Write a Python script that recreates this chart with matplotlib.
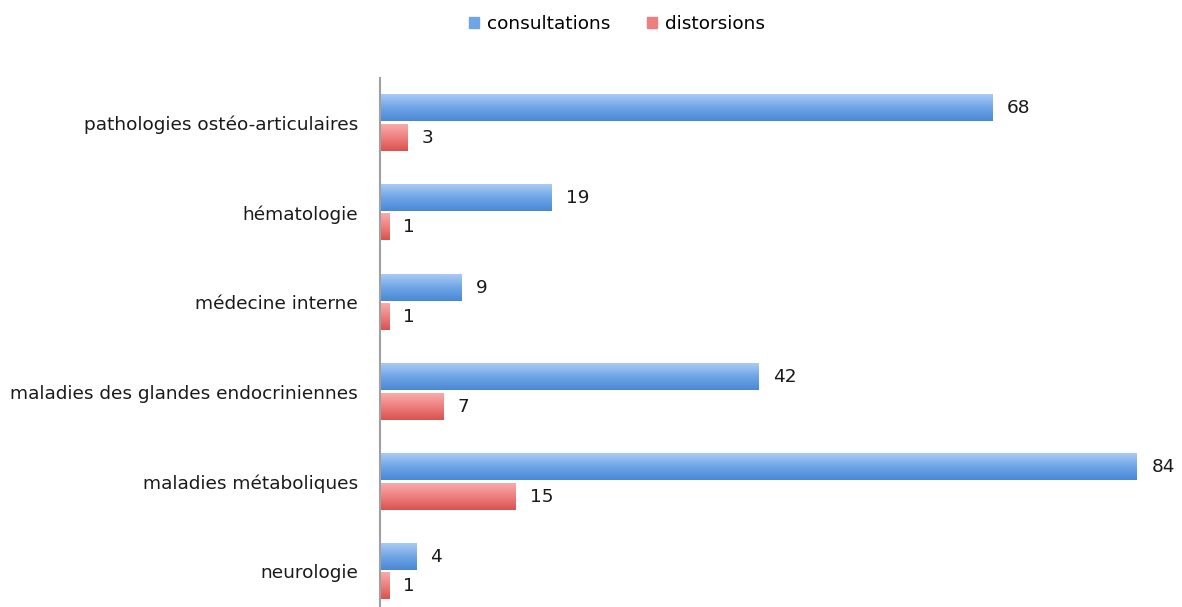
import matplotlib.pyplot as plt
import matplotlib.patches as mpatches
from matplotlib.colors import LinearSegmentedColormap
import numpy as np

categories = ['pathologies ostéo-articulaires', 'hématologie', 'médecine interne',
              'maladies des glandes endocriniennes', 'maladies métaboliques', 'neurologie']
consultations = [68, 19, 9, 42, 84, 4]
distorsions = [3, 1, 1, 7, 15, 1]

blue_cmap = LinearSegmentedColormap.from_list('b', ['#a9cbf4', '#6fa5e6', '#4a88d6'])
red_cmap = LinearSegmentedColormap.from_list('r', ['#f9abab', '#ee7f7f', '#d9524f'])

fig = plt.figure(figsize=(11.82, 6.07), dpi=100)
# axes: x from px 380 to 1182, y from px 78 to 607
ax = fig.add_axes([380 / 1182, 0.0, 802 / 1182, (607 - 78) / 607])

fs = 13.3
y = np.arange(len(categories))
off = 0.165
h = 0.29
b1 = ax.barh(y - off, consultations, height=h, color='#6fa5e6', linewidth=0)
b2 = ax.barh(y + off, distorsions, height=h, color='#ee7f7f', linewidth=0)

grad = np.linspace(0, 1, 64).reshape(-1, 1)
for bars, cmap in ((b1, blue_cmap), (b2, red_cmap)):
    for p in bars:
        x0, y0, w, hh = p.get_x(), p.get_y(), p.get_width(), p.get_height()
        ax.imshow(grad, cmap=cmap, aspect='auto', origin='upper',
                  extent=(x0, x0 + w, y0 + hh, y0), zorder=2)
        p.set_visible(False)

for i in range(len(categories)):
    ax.text(consultations[i] + 1.6, y[i] - off, str(consultations[i]),
            va='center', ha='left', fontsize=fs, color='#1a1a1a')
    ax.text(distorsions[i] + 1.6, y[i] + off, str(distorsions[i]),
            va='center', ha='left', fontsize=fs, color='#1a1a1a')

ax.set_xlim(0, 89)
ax.set_ylim(5.396, -0.5)
ax.set_yticks(y)
ax.set_yticklabels(categories, fontsize=fs, color='#1a1a1a')
ax.tick_params(axis='y', length=0, pad=16)
ax.set_xticks([])
for s in ['top', 'right', 'bottom']:
    ax.spines[s].set_visible(False)
ax.spines['left'].set_color('#a0a0a0')
ax.spines['left'].set_linewidth(1.5)

handles = [mpatches.Patch(color='#6fa5e6', label='consultations'),
           mpatches.Patch(color='#ee7f7f', label='distorsions')]
fig.legend(handles=handles, loc='center', bbox_to_anchor=(617 / 1182, 1 - 24 / 607),
           ncol=2, frameon=False, fontsize=fs, handlelength=0.55, handleheight=0.55,
           handletextpad=0.4, columnspacing=2.0)

fig.savefig('out.png', dpi=100)
